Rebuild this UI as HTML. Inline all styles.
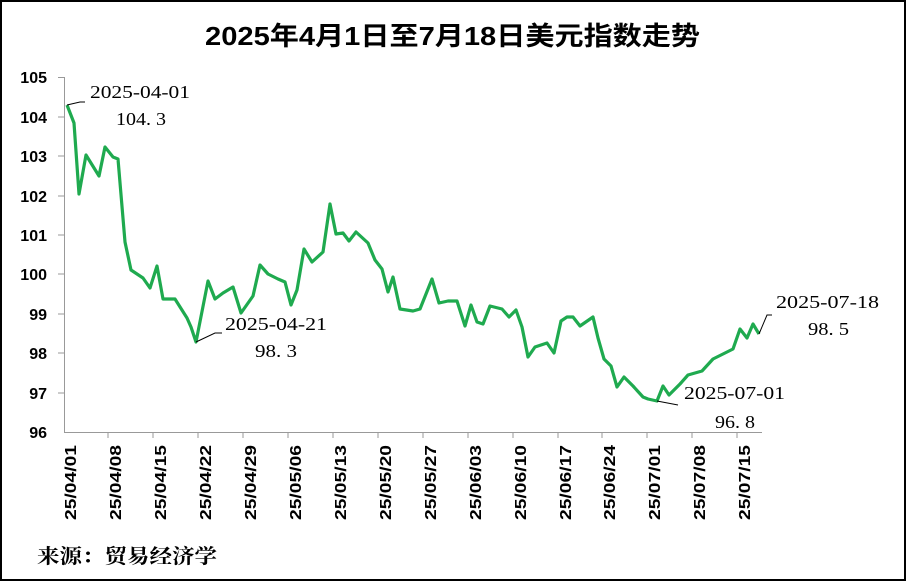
<!DOCTYPE html>
<html><head><meta charset="utf-8"><style>
html,body{margin:0;padding:0;background:#fff}
svg{display:block}
</style></head><body>
<svg width="906" height="581" viewBox="0 0 906 581" xmlns="http://www.w3.org/2000/svg">
<rect x="1" y="1" width="904" height="579" fill="#fff" stroke="#000" stroke-width="2"/>
<text x="205" y="45" textLength="495" lengthAdjust="spacingAndGlyphs" font-family="Liberation Sans, 'Noto Sans CJK SC', sans-serif" font-weight="bold" font-size="26" fill="#000">2025年4月1日至7月18日美元指数走势</text>
<g stroke="#999" stroke-width="1" fill="none">
<line x1="64.5" y1="77" x2="64.5" y2="432"/>
<line x1="64" y1="432.5" x2="762" y2="432.5"/>
<line x1="58" y1="77.5" x2="64" y2="77.5"/><line x1="58" y1="117" x2="64" y2="117"/><line x1="58" y1="156" x2="64" y2="156"/><line x1="58" y1="196" x2="64" y2="196"/><line x1="58" y1="235" x2="64" y2="235"/><line x1="58" y1="274" x2="64" y2="274"/><line x1="58" y1="314" x2="64" y2="314"/><line x1="58" y1="353" x2="64" y2="353"/><line x1="58" y1="393" x2="64" y2="393"/>
<line x1="108" y1="432" x2="108" y2="438"/><line x1="153" y1="432" x2="153" y2="438"/><line x1="198" y1="432" x2="198" y2="438"/><line x1="243" y1="432" x2="243" y2="438"/><line x1="288" y1="432" x2="288" y2="438"/><line x1="333" y1="432" x2="333" y2="438"/><line x1="378" y1="432" x2="378" y2="438"/><line x1="423" y1="432" x2="423" y2="438"/><line x1="468" y1="432" x2="468" y2="438"/><line x1="513" y1="432" x2="513" y2="438"/><line x1="558" y1="432" x2="558" y2="438"/><line x1="602" y1="432" x2="602" y2="438"/><line x1="647" y1="432" x2="647" y2="438"/><line x1="692" y1="432" x2="692" y2="438"/><line x1="737" y1="432" x2="737" y2="438"/>
</g>
<g font-family="Liberation Sans, sans-serif" font-weight="bold" font-size="16" fill="#000" text-anchor="end">
<text x="47" y="83">105</text><text x="47" y="123">104</text><text x="47" y="162">103</text><text x="47" y="202">102</text><text x="47" y="241">101</text><text x="47" y="280">100</text><text x="47" y="320">99</text><text x="47" y="359">98</text><text x="47" y="399">97</text><text x="47" y="438">96</text>
</g>
<g font-family="Liberation Sans, sans-serif" font-weight="bold" font-size="16" fill="#000" text-anchor="end">
<text transform="translate(76,445) rotate(-90)" textLength="75" lengthAdjust="spacingAndGlyphs">25/04/01</text>
<text transform="translate(121,445) rotate(-90)" textLength="75" lengthAdjust="spacingAndGlyphs">25/04/08</text>
<text transform="translate(166,445) rotate(-90)" textLength="75" lengthAdjust="spacingAndGlyphs">25/04/15</text>
<text transform="translate(211,445) rotate(-90)" textLength="75" lengthAdjust="spacingAndGlyphs">25/04/22</text>
<text transform="translate(256,445) rotate(-90)" textLength="75" lengthAdjust="spacingAndGlyphs">25/04/29</text>
<text transform="translate(301,445) rotate(-90)" textLength="75" lengthAdjust="spacingAndGlyphs">25/05/06</text>
<text transform="translate(346,445) rotate(-90)" textLength="75" lengthAdjust="spacingAndGlyphs">25/05/13</text>
<text transform="translate(391,445) rotate(-90)" textLength="75" lengthAdjust="spacingAndGlyphs">25/05/20</text>
<text transform="translate(436,445) rotate(-90)" textLength="75" lengthAdjust="spacingAndGlyphs">25/05/27</text>
<text transform="translate(481,445) rotate(-90)" textLength="75" lengthAdjust="spacingAndGlyphs">25/06/03</text>
<text transform="translate(526,445) rotate(-90)" textLength="75" lengthAdjust="spacingAndGlyphs">25/06/10</text>
<text transform="translate(571,445) rotate(-90)" textLength="75" lengthAdjust="spacingAndGlyphs">25/06/17</text>
<text transform="translate(615,445) rotate(-90)" textLength="75" lengthAdjust="spacingAndGlyphs">25/06/24</text>
<text transform="translate(660,445) rotate(-90)" textLength="75" lengthAdjust="spacingAndGlyphs">25/07/01</text>
<text transform="translate(705,445) rotate(-90)" textLength="75" lengthAdjust="spacingAndGlyphs">25/07/08</text>
<text transform="translate(750,445) rotate(-90)" textLength="75" lengthAdjust="spacingAndGlyphs">25/07/15</text>
</g>
<polyline fill="none" stroke="#1faa4f" stroke-width="3.2" stroke-linejoin="round" points="67,105 74,123 79,194 86,155 99,176 105,147 113,157 118,159 125,242 131,270 143,278 150,288 157,266 163,299 175,299 187,318 191,327 196,342 208,281 215,299 223,293 233,287 241,313 253,296 260,265 268,274 278,279 285,282 291,305 297,290 304,249 312,262 323,252 330,204 336,234 343,233 349,241 356,232 368,243 375,260 382,269 388,292 393,277 400,309 413,311 420,309 432,279 439,303 448,301 457,301 465,326 471,305 477,322 483,324 490,306 502,309 509,317 516,310 522,327 528,357 535,347 547,343 554,353 561,321 567,317 573,317 580,326 593,317 598,338 604,359 611,366 617,387 624,377 633,386 643,397 648,399 657,401 663,386 669,395 680,384 688,375 702,371 713,359 723,354 733,349 740,329 747,338 753,324 759,334"/>
<g stroke="#000" stroke-width="1" fill="none">
<polyline points="67,105 80,102 85,102"/>
<polyline points="196,342 215,333 222,333"/>
<polyline points="657,401 678,405"/>
<polyline points="759,334 767,315 772,315"/>
</g>
<g font-family="Liberation Serif, serif" font-size="18" fill="#000" lengthAdjust="spacingAndGlyphs">
<text x="90" y="98" textLength="100" lengthAdjust="spacingAndGlyphs">2025-04-01</text><text x="116" y="125" textLength="50" lengthAdjust="spacingAndGlyphs">104. 3</text>
<text x="225" y="330" textLength="102" lengthAdjust="spacingAndGlyphs">2025-04-21</text><text x="255" y="357" textLength="42" lengthAdjust="spacingAndGlyphs">98. 3</text>
<text x="684" y="399" textLength="101" lengthAdjust="spacingAndGlyphs">2025-07-01</text><text x="715" y="428" textLength="40" lengthAdjust="spacingAndGlyphs">96. 8</text>
<text x="776" y="308" textLength="103" lengthAdjust="spacingAndGlyphs">2025-07-18</text><text x="808" y="335" textLength="41" lengthAdjust="spacingAndGlyphs">98. 5</text>
</g>
<text x="37" y="563" textLength="180" lengthAdjust="spacingAndGlyphs" font-family="'Noto Serif CJK SC', serif" font-weight="bold" font-size="20" fill="#000">来源：贸易经济学</text>
</svg>
</body></html>
